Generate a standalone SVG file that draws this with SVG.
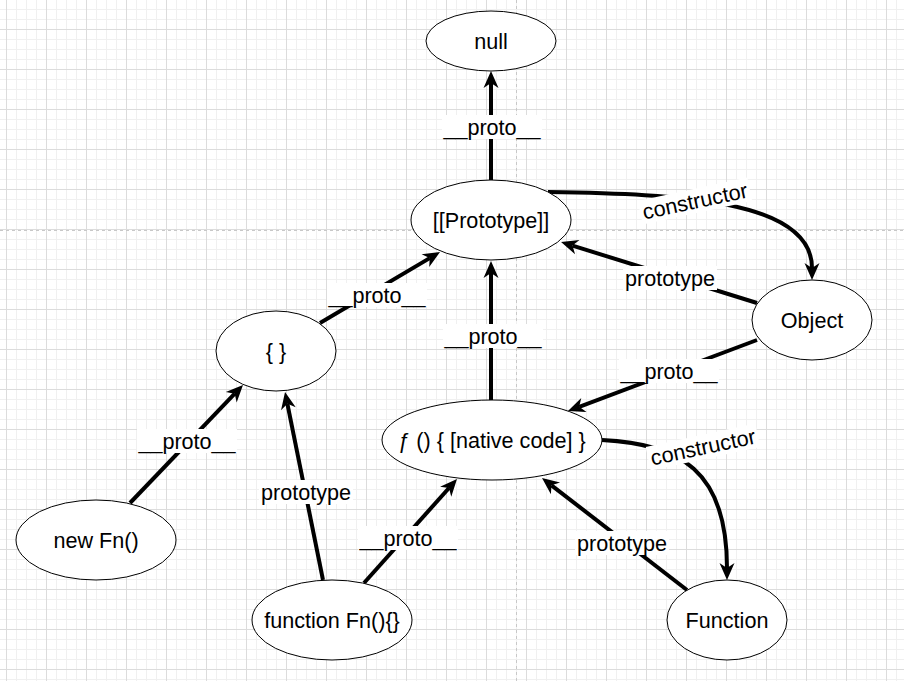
<svg xmlns="http://www.w3.org/2000/svg" width="904" height="681" viewBox="0 0 904 681">
  <style>
    .node ellipse { fill: #ffffff; stroke: #000000; stroke-width: 1; }
    text { font-family: "Liberation Sans", Arial, sans-serif; font-size: 21.6px; fill: #000000; text-anchor: middle; }
    .edge { fill: none; stroke: #000000; stroke-width: 4; marker-end: url(#arr); }
    .lbl rect { fill: #ffffff; }
    .minor { stroke: #f0f0f0; stroke-width: 1; fill: none; }
    .major { stroke: #dcdcdc; stroke-width: 1; fill: none; }
    .page { stroke: #c8c8c8; stroke-width: 1; stroke-dasharray: 3 3; fill: none; }
  </style>
  <defs>
    <pattern id="grid" patternUnits="userSpaceOnUse" x="6" y="29" width="40" height="40">
      <path class="minor" d="M10.5,0 V40 M20.5,0 V40 M30.5,0 V40 M0,10.5 H40 M0,20.5 H40 M0,30.5 H40"/>
      <path class="major" d="M0.5,0 V40 M0,0.5 H40"/>
    </pattern>
    <marker id="arr" viewBox="-6 -8 19 16" refX="0" refY="0" markerWidth="19" markerHeight="16" markerUnits="userSpaceOnUse" orient="auto">
      <path d="M12,0 L-5,-7.5 L0,0 L-5,7.5 Z" fill="#000000"/>
    </marker>
  </defs>

  <rect x="0" y="0" width="904" height="681" fill="#ffffff"/>
  <rect x="0" y="0" width="904" height="681" fill="url(#grid)"/>
  <path class="page" d="M516.5,0 V681 M0,230.5 H904"/>

  <g id="connectors">
    <path class="edge" d="M491,180 L491,83"/>
    <path class="edge" d="M548,192 C680,194 812,200 812,268"/>
    <path class="edge" d="M757,303 L572.5,245.6"/>
    <path class="edge" d="M757,340 L579.2,406.8"/>
    <path class="edge" d="M491,401 L491,273"/>
    <path class="edge" d="M320,323 L429.7,258.1"/>
    <path class="edge" d="M130,503 L234.7,393.7"/>
    <path class="edge" d="M323,580 L287.4,403.8"/>
    <path class="edge" d="M364,583 L449,488"/>
    <path class="edge" d="M602,440 C680,444 727,470 727,568"/>
    <path class="edge" d="M687,590 L551.5,485.3"/>

    <g class="lbl" transform="translate(492,127)"><rect x="-50" y="-12" width="100" height="24"/><text dy="0.35em">__proto__</text></g>
    <g class="lbl" transform="translate(695,201) rotate(-12)"><rect x="-56" y="-12" width="112" height="24"/><text dy="0.35em">constructor</text></g>
    <g class="lbl" transform="translate(670,278)"><rect x="-47" y="-12" width="94" height="24"/><text dy="0.35em">prototype</text></g>
    <g class="lbl" transform="translate(669,371)"><rect x="-50" y="-12" width="100" height="24"/><text dy="0.35em">__proto__</text></g>
    <g class="lbl" transform="translate(493,336)"><rect x="-50" y="-12" width="100" height="24"/><text dy="0.35em">__proto__</text></g>
    <g class="lbl" transform="translate(377,295)"><rect x="-50" y="-12" width="100" height="24"/><text dy="0.35em">__proto__</text></g>
    <g class="lbl" transform="translate(187,441)"><rect x="-50" y="-12" width="100" height="24"/><text dy="0.35em">__proto__</text></g>
    <g class="lbl" transform="translate(306,492)"><rect x="-47" y="-12" width="94" height="24"/><text dy="0.35em">prototype</text></g>
    <g class="lbl" transform="translate(408,538)"><rect x="-50" y="-12" width="100" height="24"/><text dy="0.35em">__proto__</text></g>
    <g class="lbl" transform="translate(703,447) rotate(-12)"><rect x="-56" y="-12" width="112" height="24"/><text dy="0.35em">constructor</text></g>
    <g class="lbl" transform="translate(622,543)"><rect x="-47" y="-12" width="94" height="24"/><text dy="0.35em">prototype</text></g>
  </g>

  <g id="node-null" class="node"><ellipse cx="491" cy="41" rx="65" ry="30"/><text x="491" y="41" dy="0.35em">null</text></g>
  <g id="node-prototype" class="node"><ellipse cx="491" cy="220" rx="80" ry="40"/><text x="491" y="220" dy="0.35em">[[Prototype]]</text></g>
  <g id="node-object" class="node"><ellipse cx="812" cy="320" rx="60" ry="40"/><text x="812" y="320" dy="0.35em">Object</text></g>
  <g id="node-empty-object" class="node"><ellipse cx="276" cy="351" rx="60" ry="40"/><text x="276" y="351" dy="0.35em">{ }</text></g>
  <g id="node-native" class="node"><ellipse cx="492" cy="440" rx="110" ry="40"/><text x="492" y="440" dy="0.35em">ƒ () { [native code] }</text></g>
  <g id="node-new-fn" class="node"><ellipse cx="96" cy="540" rx="80" ry="40"/><text x="96" y="540" dy="0.35em">new Fn()</text></g>
  <g id="node-function-fn" class="node"><ellipse cx="332" cy="620" rx="80" ry="40"/><text x="332" y="620" dy="0.35em">function Fn(){}</text></g>
  <g id="node-function" class="node"><ellipse cx="727" cy="620" rx="60" ry="40"/><text x="727" y="620" dy="0.35em">Function</text></g>
</svg>
